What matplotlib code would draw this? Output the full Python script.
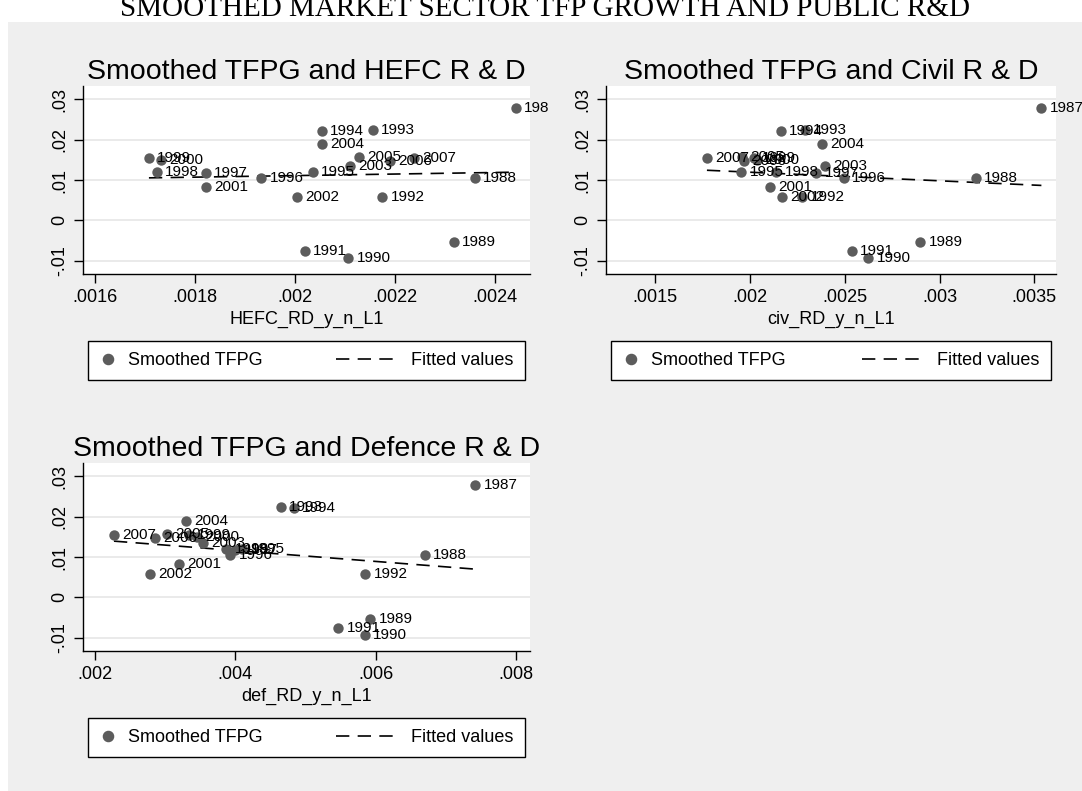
import numpy as np
import matplotlib.pyplot as plt
from matplotlib.lines import Line2D
from matplotlib.patches import Rectangle
from matplotlib.legend_handler import HandlerLine2D
from matplotlib.transforms import Bbox, TransformedBbox

plt.rcParams['font.family'] = ['Liberation Sans', 'DejaVu Sans']

# valeurs (une par annee)
years = [1987, 1988, 1989, 1990, 1991, 1992, 1993, 1994, 1995, 1996, 1997,
         1998, 1999, 2000, 2001, 2002, 2003, 2004, 2005, 2006, 2007]
tfpg = [0.0279, 0.0106, -0.0053, -0.0094, -0.0075, 0.0057, 0.0223, 0.0222,
        0.0121, 0.0104, 0.0117, 0.0119, 0.0155, 0.0150, 0.0082, 0.0059,
        0.0134, 0.0188, 0.0156, 0.0146, 0.0155]
hefc_rd = [0.002442, 0.002359, 0.002317, 0.002106, 0.002019, 0.002174, 0.002155,
           0.002053, 0.002035, 0.001932, 0.001821, 0.001723, 0.001707, 0.001732,
           0.001821, 0.002004, 0.002110, 0.002053, 0.002127, 0.002190, 0.002237]
civ_rd = [0.003537, 0.003190, 0.002898, 0.002625, 0.002538, 0.002277, 0.002289,
          0.002162, 0.001956, 0.002495, 0.002350, 0.002140, 0.002020, 0.002040,
          0.002105, 0.002170, 0.002395, 0.002380, 0.001960, 0.001970, 0.001774]
def_rd = [0.00742, 0.00670, 0.005926, 0.005845, 0.005466, 0.00585, 0.004646,
          0.00483, 0.00410, 0.00393, 0.00400, 0.00387, 0.00334, 0.00345,
          0.00319, 0.002787, 0.00354, 0.00329, 0.00302, 0.002853, 0.00227]

yticks = [-0.01, 0, 0.01, 0.02, 0.03]
ytick_labels = ['-.01', '0', '.01', '.02', '.03']

hefc_ticks = [0.0016, 0.0018, 0.002, 0.0022, 0.0024]
hefc_labels = ['.0016', '.0018', '.002', '.0022', '.0024']
civ_ticks = [0.0015, 0.002, 0.0025, 0.003, 0.0035]
civ_labels = ['.0015', '.002', '.0025', '.003', '.0035']
def_ticks = [0.002, 0.004, 0.006, 0.008]
def_labels = ['.002', '.004', '.006', '.008']

W, H = 1082, 791
marker_col = '#5c5c5c'
dash = (0, (8, 5))


class LongDash(HandlerLine2D):
    # trait long qui part vers la gauche, comme la legende de Stata
    def get_xdata(self, legend, xdescent, ydescent, width, height, fontsize):
        x1 = -xdescent + width
        return [x1 - 3.6 * fontsize, x1], [x1]


fig = plt.figure(figsize=(W / 100, H / 100), dpi=100, facecolor='white')
fig.patches.append(Rectangle((8 / W, 0), 1 - 8 / W, (H - 22) / H, transform=fig.transFigure,
                             facecolor='#efefef', edgecolor='none', zorder=-10))
fig.text(545 / W, 1 - 16 / H, 'SMOOTHED MARKET SECTOR TFP GROWTH AND PUBLIC R&D',
         family='Liberation Serif', fontsize=21, ha='center', va='baseline')

# les etiquettes sont coupees au bord de chaque sous-graphique
panels = [
    ('Smoothed TFPG and HEFC R & D', 'HEFC_RD_y_n_L1', hefc_rd, hefc_ticks, hefc_labels,
     (0.001575, 0.00247), [83, 86, 447, 188], 548),
    ('Smoothed TFPG and Civil R & D', 'civ_RD_y_n_L1', civ_rd, civ_ticks, civ_labels,
     (0.001242, 0.003614), [606, 86, 450, 188], W),
    ('Smoothed TFPG and Defence R & D', 'def_RD_y_n_L1', def_rd, def_ticks, def_labels,
     (0.001829, 0.008199), [83, 463, 447, 188], 548),
]

for titre, xlab, x, xt, xtl, xlim, box, xclip in panels:
    l, t, w, h = box
    ax = fig.add_axes([l / W, (H - t - h) / H, w / W, h / H])
    x = np.array(x)
    y = np.array(tfpg)

    ax.scatter(x, y, s=56, color=marker_col, zorder=3, linewidths=0)
    clip = TransformedBbox(Bbox.from_extents(0, 0, xclip / W, 1), fig.transFigure)
    for xi, yi, yr in zip(x, y, years):
        a_txt = ax.annotate(str(yr), (xi, yi), xytext=(6, 0), textcoords='offset points',
                            fontsize=11, va='center', ha='left', zorder=4,
                            annotation_clip=False)
        a_txt.set_clip_box(clip)
        a_txt.set_clip_on(True)

    b, a = np.polyfit(x, y, 1)
    xs = np.array([x.min(), x.max()])
    ax.plot(xs, a + b * xs, color='black', lw=1.2, ls=dash, zorder=2)

    ax.set_xlim(xlim)
    ax.set_ylim(-0.0133, 0.0333)
    ax.set_xticks(xt)
    ax.set_xticklabels(xtl)
    ax.set_yticks(yticks)
    ax.set_yticklabels(ytick_labels, rotation=90, va='center')
    ax.yaxis.grid(True, color='#e8e8e8', lw=1.3)
    ax.set_axisbelow(True)
    ax.tick_params(direction='out', length=6.5, width=1, labelsize=13, pad=4)
    for s in ['top', 'right']:
        ax.spines[s].set_visible(False)
    for s in ['left', 'bottom']:
        ax.spines[s].set_linewidth(1)
    ax.set_xlabel(xlab, fontsize=13, labelpad=4)
    ax.set_title(titre, fontsize=20.5, pad=5)

    h_pts = Line2D([], [], marker='o', ls='none', color=marker_col, markersize=7.3)
    h_fit = Line2D([], [], color='black', lw=1.2, ls=dash)
    lx0 = 5 / w
    leg = ax.legend([h_pts, h_fit], ['Smoothed TFPG', 'Fitted values'],
                    loc='upper left', bbox_to_anchor=(lx0, -67 / h, 1 - 2 * lx0, 0),
                    mode='expand', ncol=2, handlelength=1.0, handletextpad=0.6,
                    borderpad=0.62, borderaxespad=0, fontsize=13, fancybox=False,
                    edgecolor='black', framealpha=1, handler_map={h_fit: LongDash()})
    leg.get_frame().set_linewidth(1.0)

fig.savefig('out.png', dpi=100)
